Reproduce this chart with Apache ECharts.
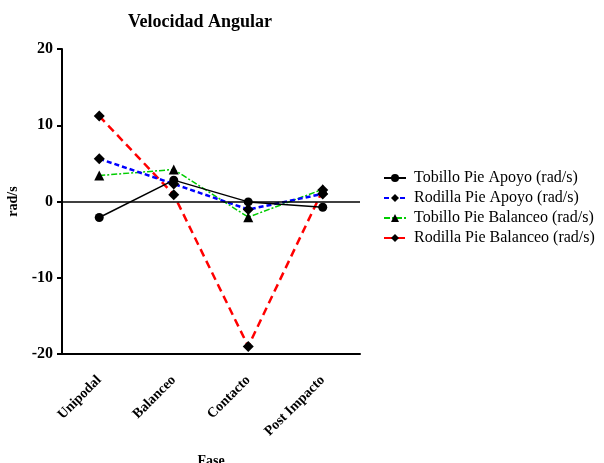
<!DOCTYPE html>
<html><head><meta charset="utf-8">
<script src="https://cdn.jsdelivr.net/npm/echarts@6/dist/echarts.min.js"></script>
<style>html,body{margin:0;padding:0;background:#fff}#c{width:604px;height:463px}</style>
</head><body><div id="c"></div>
<script>
const categories = ['Unipodal', 'Balanceo', 'Contacto', 'Post Impacto'];
const tobilloApoyo = [-2.1, 2.8, -0.05, -0.75];
const rodillaApoyo = [5.6, 2.3, -1.05, 1.0];
const tobilloBalanceo = [3.4, 4.2, -2.05, 1.6];
const rodillaBalanceo = [11.2, 0.9, -19.0, 1.5];
const yTicks = [-20, -10, 0, 10, 20];

const F = 'Liberation Serif, Times New Roman, serif';
const chart = echarts.init(document.getElementById('c'), null, {renderer: 'canvas'});
chart.setOption({
  animation: false,
  backgroundColor: '#fff',
  title: {
    text: 'Velocidad Angular', left: 195, textAlign: 'center', top: 8,
    textStyle: {fontFamily: F, fontWeight: 'bold', fontSize: 18, color: '#000'}
  },
  grid: {left: 62, top: 49, width: 298, height: 305, containLabel: false, outerBoundsMode: 'none'},
  legend: {
    orient: 'vertical', left: 378, top: 165, itemWidth: 22, itemHeight: 10, itemGap: 4,
    textStyle: {fontFamily: F, fontSize: 16, color: '#000', padding: [0, 0, 0, 3]},
    data: ['Tobillo Pie Apoyo (rad/s)', 'Rodilla Pie Apoyo (rad/s)', 'Tobillo Pie Balanceo (rad/s)', 'Rodilla Pie Balanceo (rad/s)']
  },
  xAxis: {
    type: 'category', data: categories, boundaryGap: true,
    name: 'Fase', nameLocation: 'middle', nameGap: 100,
    nameTextStyle: {fontFamily: F, fontWeight: 'bold', fontSize: 14, color: '#000'},
    axisLine: {onZero: false, lineStyle: {color: '#000', width: 2}},
    axisTick: {alignWithLabel: true, length: 6, lineStyle: {color: '#000', width: 2}},
    axisLabel: {rotate: 45, fontFamily: F, fontWeight: 'bold', fontSize: 14, color: '#000', margin: 24},
    splitLine: {show: false}
  },
  yAxis: {
    type: 'value', min: yTicks[0], max: yTicks[yTicks.length - 1], interval: 10,
    name: 'rad/s', nameLocation: 'middle', nameGap: 42, nameRotate: 90,
    nameTextStyle: {fontFamily: F, fontWeight: 'bold', fontSize: 14, color: '#000'},
    axisLine: {show: true, lineStyle: {color: '#000', width: 2}},
    axisTick: {show: true, length: 5, lineStyle: {color: '#000', width: 2}},
    axisLabel: {fontFamily: F, fontWeight: 'bold', fontSize: 16, color: '#000', margin: 9},
    splitLine: {show: false}
  },
  series: [
    {
      name: 'Tobillo Pie Apoyo (rad/s)', type: 'line', data: tobilloApoyo,
      symbol: 'circle', symbolSize: 9, z: 5,
      itemStyle: {color: '#000'}, lineStyle: {color: '#000', width: 1.5},
      markLine: {silent: true, symbol: 'none', label: {show: false},
        lineStyle: {color: '#000', width: 1.5, type: 'solid'}, data: [{yAxis: 0}]}
    },
    {
      name: 'Rodilla Pie Apoyo (rad/s)', type: 'line', data: rodillaApoyo,
      symbol: 'diamond', symbolSize: 11, z: 4,
      itemStyle: {color: '#000'}, lineStyle: {color: '#0000ff', width: 2.5, type: [5, 3]}
    },
    {
      name: 'Tobillo Pie Balanceo (rad/s)', type: 'line', data: tobilloBalanceo,
      symbol: 'triangle', symbolSize: 10, z: 3,
      itemStyle: {color: '#000'}, lineStyle: {color: '#00cc00', width: 1.5, type: [6, 2, 2, 2]}
    },
    {
      name: 'Rodilla Pie Balanceo (rad/s)', type: 'line', data: rodillaBalanceo,
      symbol: 'diamond', symbolSize: 11, z: 2,
      itemStyle: {color: '#000'}, lineStyle: {color: '#ff0000', width: 2.5, type: [8, 5]}
    }
  ]
});
</script></body></html>
